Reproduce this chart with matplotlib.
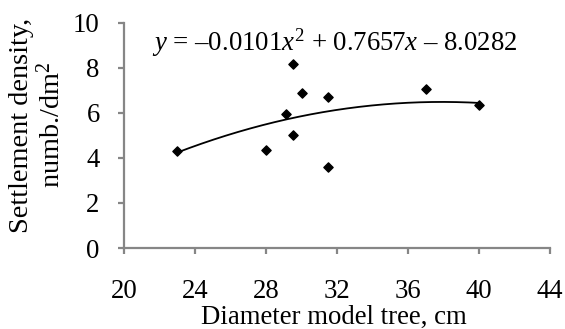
import numpy as np
import matplotlib
matplotlib.use("Agg")
import matplotlib.pyplot as plt

plt.rcParams['font.family'] = ['Liberation Serif', 'DejaVu Serif']
plt.rcParams['mathtext.fontset'] = 'custom'
plt.rcParams['mathtext.rm'] = 'Liberation Serif'
plt.rcParams['mathtext.it'] = 'Liberation Serif:italic'

# data
diameter = [23.0, 28.0, 29.1, 29.5, 29.5, 30.0, 31.5, 31.5, 37.0, 40.0]
density = [4.3, 4.35, 5.95, 8.15, 5.0, 6.9, 6.7, 3.6, 7.05, 6.35]
coef = [-0.0101, 0.7657, -8.0282]
x_ticks = [20, 24, 28, 32, 36, 40, 44]
y_ticks = [0, 2, 4, 6, 8, 10]

fs = 19.3
fig = plt.figure(figsize=(5.65, 3.29), dpi=100)
ax = fig.add_axes([0.2195, 0.246, 0.754, 0.685])

gray = '#868686'

xs = np.linspace(min(diameter), max(diameter), 200)
ax.plot(xs, np.polyval(coef, xs), color='black', lw=1.3)
ax.scatter(diameter, density, marker='D', s=22, color='black', zorder=3)

ax.set_xlim(20, 44)
ax.set_ylim(0, 10)
ax.set_xticks(x_ticks)
ax.set_yticks(y_ticks)

for s in ['top', 'right']:
    ax.spines[s].set_visible(False)
for s in ['left', 'bottom']:
    ax.spines[s].set_color(gray)
    ax.spines[s].set_linewidth(1.6)
ax.tick_params(colors=gray, width=1.6, length=4.5, labelcolor='black',
               labelsize=fs)
ax.tick_params(axis='x', pad=18)
ax.tick_params(axis='y', pad=13)

ax.set_xlabel('Diameter model tree, cm', fontsize=fs)
ax.xaxis.set_label_coords(0.492, -0.25)
ax.set_ylabel('Settlement density,\nnumb./dm$^2$', fontsize=fs + 1,
              linespacing=1.15)
ax.yaxis.set_label_coords(-0.136, 0.545)

ax.text(0.065, 0.91, r'$y$ = –0.0101$x^2$ + 0.7657$x$ – 8.0282',
        transform=ax.transAxes, fontsize=fs, va='center', ha='left')

fig.savefig('out.png', dpi=100)
